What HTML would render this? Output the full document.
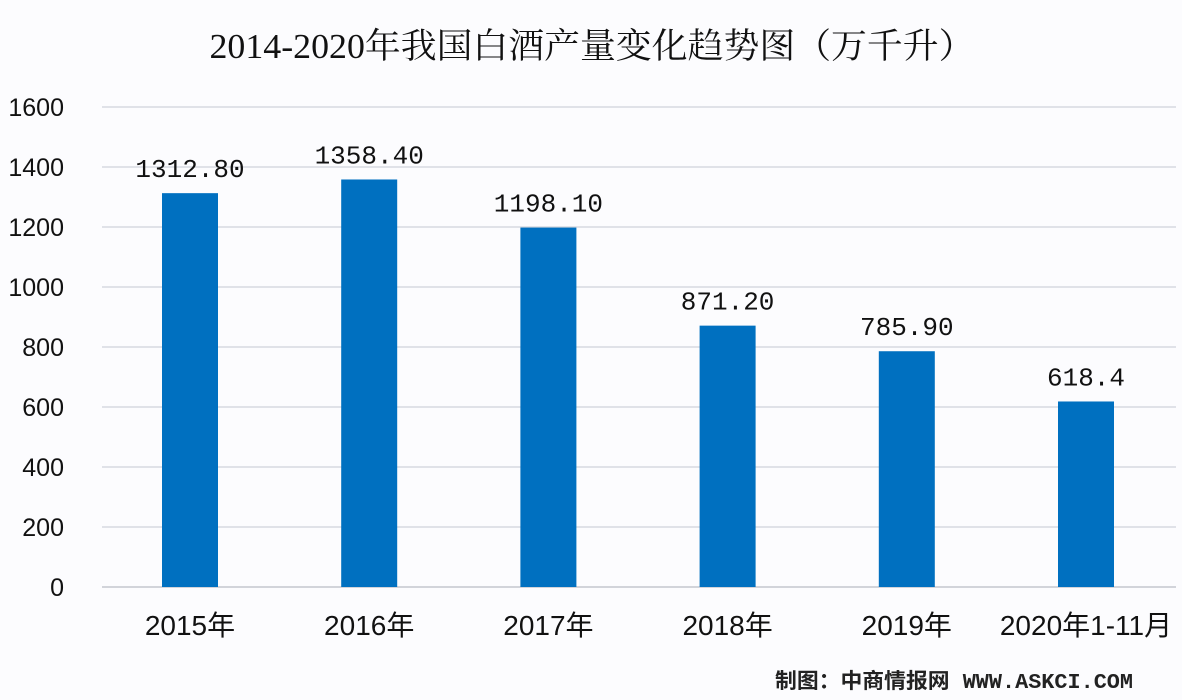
<!DOCTYPE html>
<html><head><meta charset="utf-8">
<style>
html,body{margin:0;padding:0;background:#fcfcfe;}
svg{display:block;}
</style></head>
<body>
<svg width="1182" height="700" viewBox="0 0 1182 700" xmlns="http://www.w3.org/2000/svg">
<rect x="0" y="0" width="1182" height="700" fill="#fcfcfe"/>
<text x="592" y="58" text-anchor="middle" font-family="'Liberation Serif','Noto Serif CJK SC',serif" font-size="35" fill="#111" textLength="765" lengthAdjust="spacingAndGlyphs">2014-2020年我国白酒产量变化趋势图（万千升）</text>
<g id="grid"></g>
<g id="bars"></g>
<text x="1133" y="688" text-anchor="end" font-family="'Liberation Mono','Noto Sans CJK SC',monospace" font-size="21" font-weight="bold" fill="#222" textLength="358" lengthAdjust="spacingAndGlyphs">制图：中商情报网 WWW.ASKCI.COM</text>
</svg>
<script>
const categories = ["2015年","2016年","2017年","2018年","2019年","2020年1-11月"];
const values = [1312.8,1358.4,1198.1,871.2,785.9,618.4];
const valueLabels = ["1312.80","1358.40","1198.10","871.20","785.90","618.4"];
const yTicks = [0,200,400,600,800,1000,1200,1400,1600];

const NS="http://www.w3.org/2000/svg";
const x0=100.4, band=179.2, barW=56;
const y0=587, yMax=1600, yTop=107;
const y = v => y0 - (v/yMax)*(y0-yTop);
const xc = i => x0 + band*(i+0.5);
const grid=document.getElementById('grid');
const bars=document.getElementById('bars');
function mk(tag,attrs,parent,text){const e=document.createElementNS(NS,tag);for(const k in attrs)e.setAttribute(k,attrs[k]);if(text!==undefined)e.textContent=text;parent.appendChild(e);return e;}
yTicks.forEach(t=>{
  const l=mk('line',{x1:102,x2:1176,y1:y(t),y2:y(t),stroke:t===0?'#b8bcc4':'#d0d3da','stroke-width':1.3},grid);
  
  
  const tx=mk('text',{x:64,y:y(t)+9,'text-anchor':'end','font-family':"'Liberation Sans',sans-serif",'font-size':25,fill:'#111'},grid,String(t));
  
  
});
values.forEach((v,i)=>{
  const r=mk('rect',{x:xc(i)-barW/2,y:y(v),width:barW,height:y0-y(v),fill:'#0070c0'},bars);
  
  
  const vl=mk('text',{x:xc(i),y:y(v)-16,'text-anchor':'middle','font-family':"'Liberation Mono',monospace",'font-size':26,fill:'#111'},bars,valueLabels[i]);
  
  
  const cl=mk('text',{x:xc(i),y:635,'text-anchor':'middle','font-family':"'Liberation Sans','Noto Sans CJK SC',sans-serif",'font-size':28,fill:'#111'},bars,categories[i]);
  
  
});
</script>
</body></html>
